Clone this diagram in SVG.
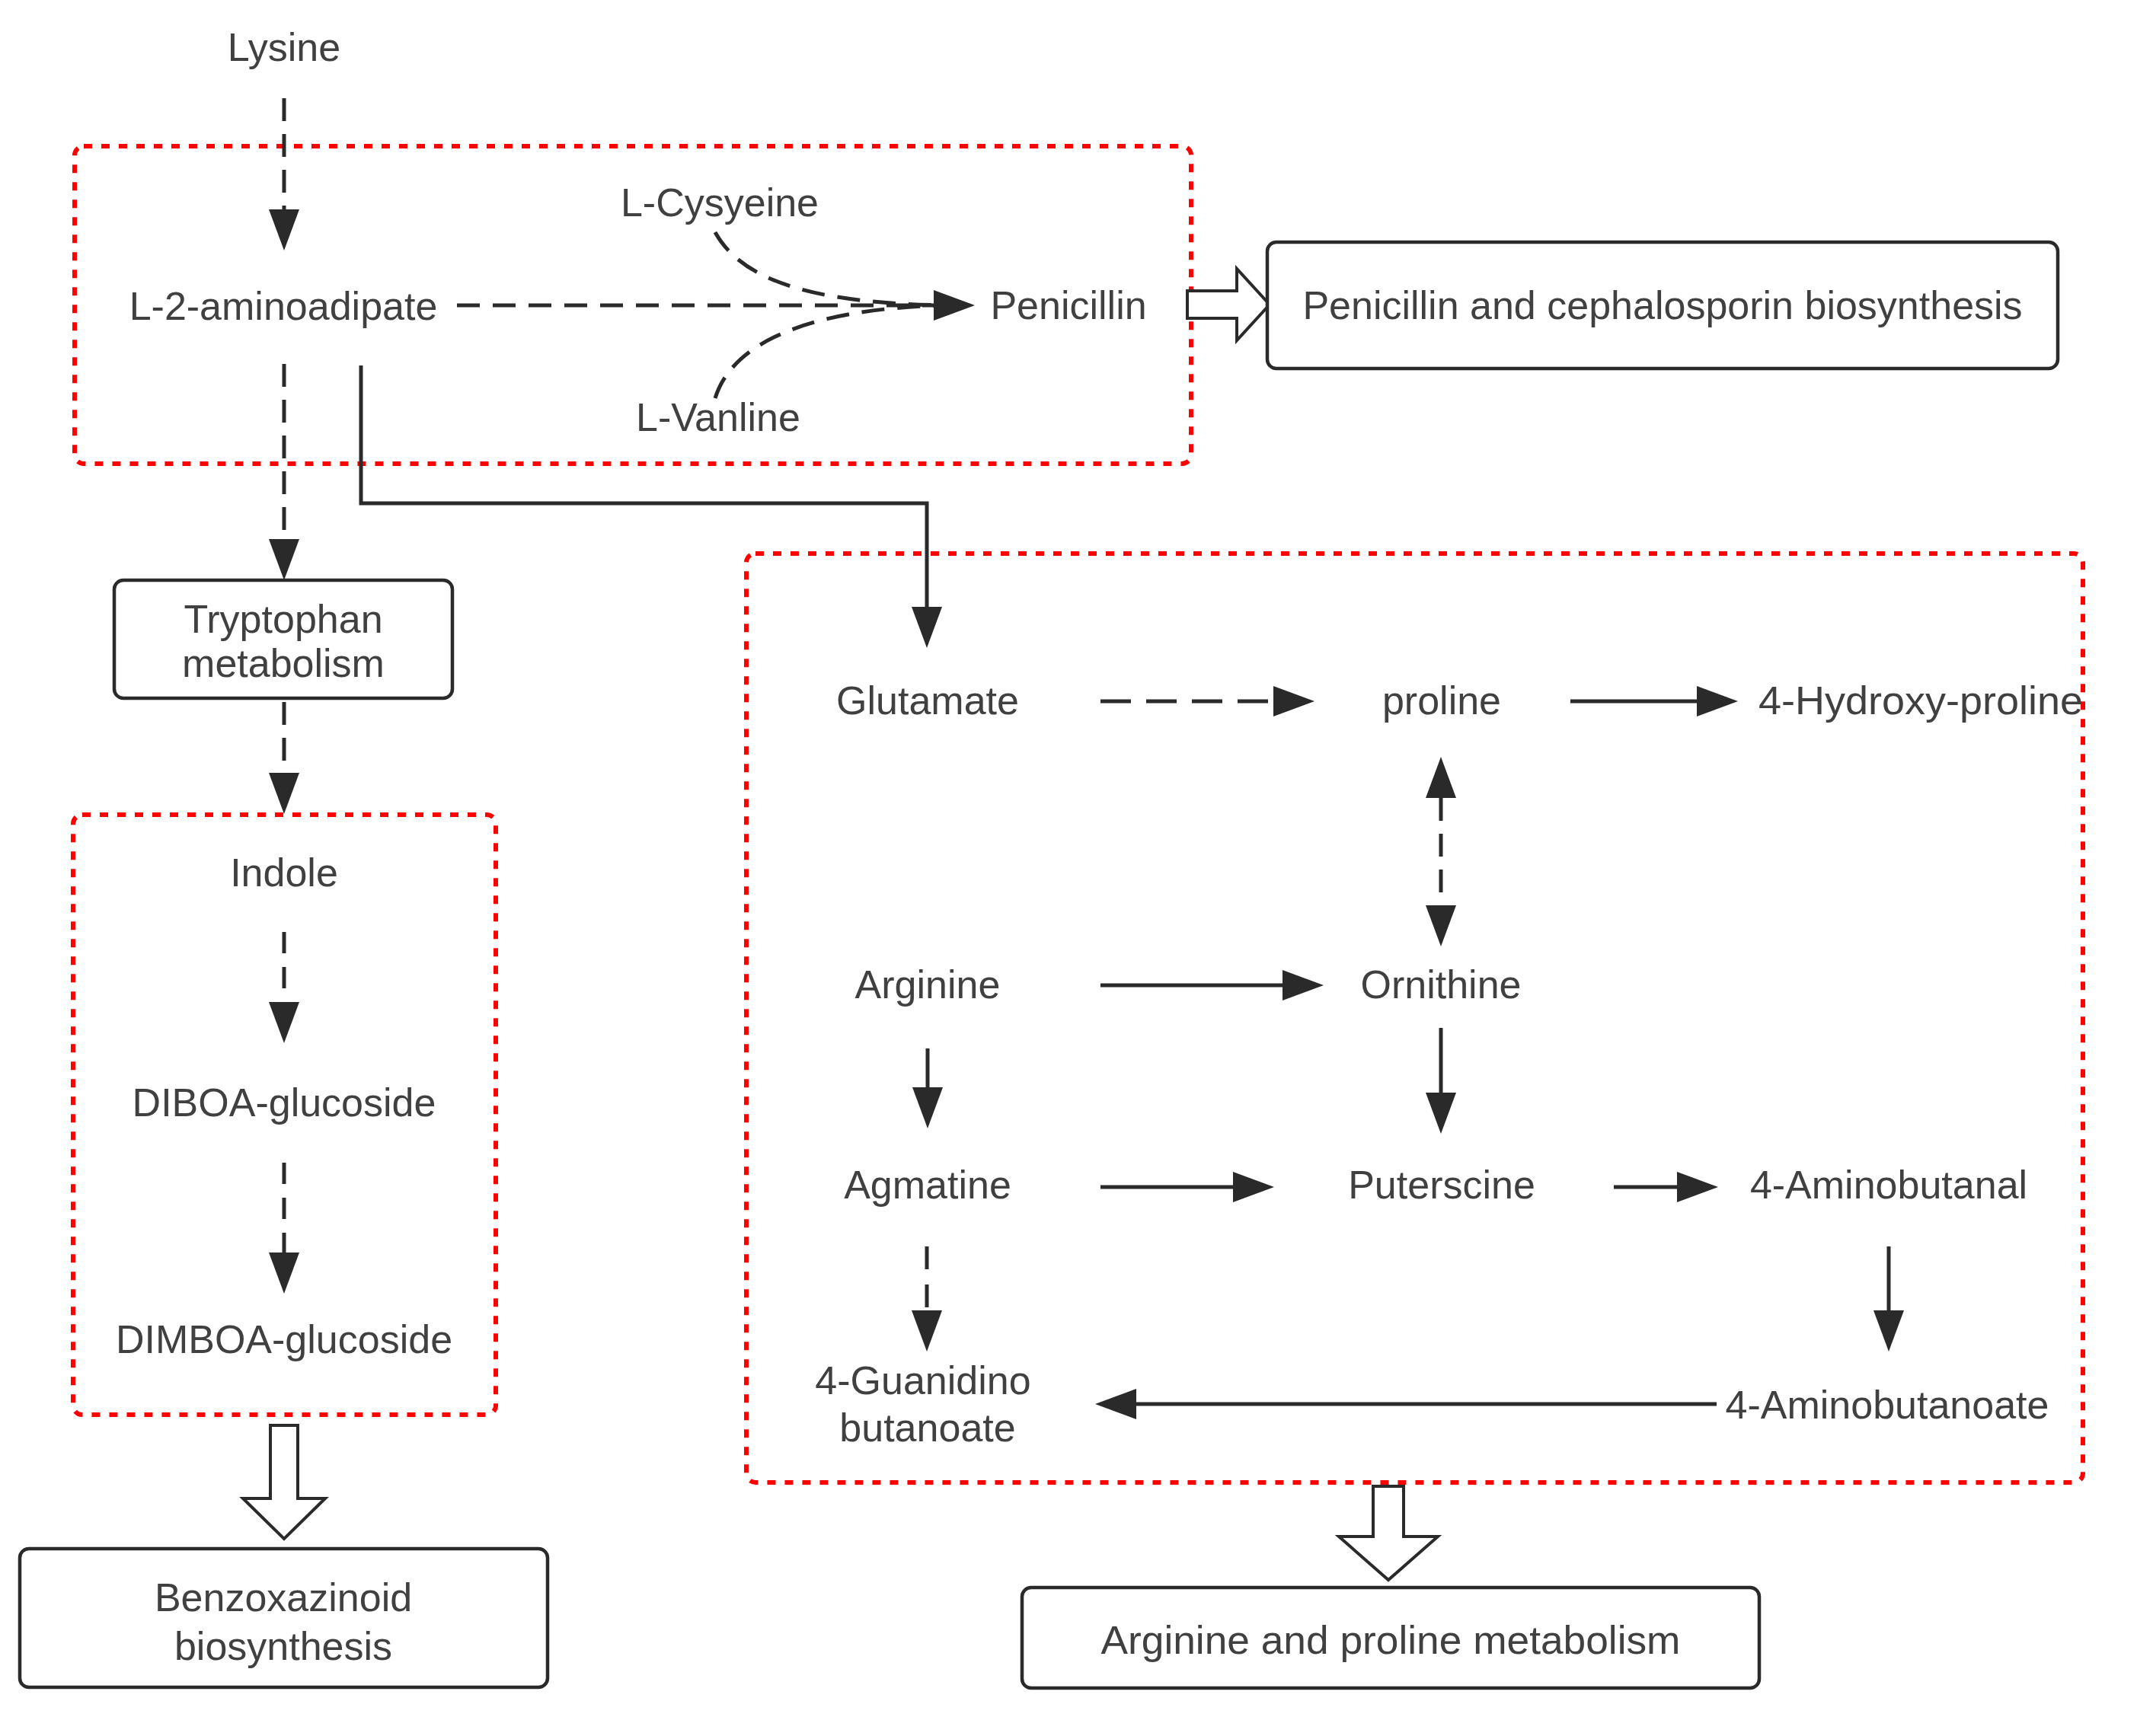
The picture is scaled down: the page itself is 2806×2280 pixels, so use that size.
<svg xmlns="http://www.w3.org/2000/svg" width="2806" height="2280" viewBox="0 0 2806 2280">
<defs>
<marker id="ah" viewBox="0 0 54 40" markerWidth="54" markerHeight="40" refX="0" refY="20" markerUnits="userSpaceOnUse" orient="auto-start-reverse">
<path d="M0,0 L54,20 L0,40 z" fill="#2a2a2a"/>
</marker>
<style>
text{font-family:"Liberation Sans",Arial,sans-serif;font-size:52px;fill:#404040;text-anchor:middle}
.red{fill:none;stroke:#ff0000;stroke-width:6;stroke-dasharray:11 12}
.box{fill:#fff;stroke:#2a2a2a;stroke-width:4.5}
.ln{fill:none;stroke:#2a2a2a;stroke-width:5}
.dash{stroke-dasharray:30 17}
.hollow{fill:#fff;stroke:#2a2a2a;stroke-width:4;stroke-linejoin:miter}
</style>
</defs>
<rect width="2806" height="2280" fill="#fff"/>

<g id="groups">
<rect id="group-penicillin" class="red" x="98" y="192" width="1466" height="417" rx="12"/>
<rect id="group-benzoxazinoid" class="red" x="96" y="1070" width="555" height="788" rx="12"/>
<rect id="group-arginine" class="red" x="980" y="727" width="1755" height="1220" rx="12"/>
</g>

<g id="connectors">
<line class="ln dash" x1="373" y1="129" x2="373" y2="275" marker-end="url(#ah)"/>
<line class="ln dash" x1="600" y1="401" x2="1226" y2="401" marker-end="url(#ah)"/>
<path class="ln dash" d="M939,305 C975,370 1070,398 1240,401"/>
<path class="ln dash" d="M939,523 C960,455 1050,406 1240,401"/>
<line class="ln dash" x1="373" y1="478" x2="373" y2="708" marker-end="url(#ah)"/>
<path class="ln" d="M474,480 V661 H1217 V797" marker-end="url(#ah)"/>
<line class="ln dash" x1="373" y1="922" x2="373" y2="1015" marker-end="url(#ah)"/>
<line class="ln dash" style="stroke-dasharray:28 18" x1="373" y1="1224" x2="373" y2="1316" marker-end="url(#ah)"/>
<line class="ln dash" style="stroke-dasharray:28 18" x1="373" y1="1527" x2="373" y2="1645" marker-end="url(#ah)"/>
<polygon id="to-penicillin-box" class="hollow" points="1559,382 1624,382 1624,353 1667,400 1624,447 1624,418 1559,418"/>
<polygon id="to-benzoxazinoid-box" class="hollow" points="355,1872 391,1872 391,1968 427,1968 373,2021 319,1968 355,1968"/>
<polygon id="to-arginine-box" class="hollow" points="1803,1952 1843,1952 1843,2018 1888,2018 1823,2075 1758,2018 1803,2018"/>

<line class="ln" style="stroke-dasharray:40 20" x1="1445" y1="921" x2="1672" y2="921" marker-end="url(#ah)"/>
<line class="ln" x1="2062" y1="921" x2="2228" y2="921" marker-end="url(#ah)"/>
<line class="ln dash" x1="1892" y1="1048" x2="1892" y2="1189" marker-start="url(#ah)" marker-end="url(#ah)"/>
<line class="ln" x1="1445" y1="1294" x2="1684" y2="1294" marker-end="url(#ah)"/>
<line class="ln" x1="1218" y1="1377" x2="1218" y2="1428" marker-end="url(#ah)"/>
<line class="ln" x1="1892" y1="1350" x2="1892" y2="1435" marker-end="url(#ah)"/>
<line class="ln" x1="1445" y1="1559" x2="1619" y2="1559" marker-end="url(#ah)"/>
<line class="ln" x1="2119" y1="1559" x2="2202" y2="1559" marker-end="url(#ah)"/>
<line class="ln" x1="2480" y1="1637" x2="2480" y2="1721" marker-end="url(#ah)"/>
<line class="ln dash" style="stroke-dasharray:30 20" x1="1217" y1="1637" x2="1217" y2="1721" marker-end="url(#ah)"/>
<line class="ln" x1="2254" y1="1844" x2="1492" y2="1844" marker-end="url(#ah)"/>
</g>

<g id="node-lysine"><text x="373" y="80">Lysine</text></g>
<g id="node-l2aminoadipate"><text x="372" y="420">L-2-aminoadipate</text></g>
<g id="node-lcysyeine"><text x="945" y="284">L-Cysyeine</text></g>
<g id="node-lvanline"><text x="943" y="566">L-Vanline</text></g>
<g id="node-penicillin"><text x="1403" y="419">Penicillin</text></g>
<g id="node-penicillin-box">
<rect class="box" x="1664" y="318" width="1038" height="166" rx="12"/>
<text x="2183" y="419">Penicillin and cephalosporin biosynthesis</text>
</g>
<g id="node-tryptophan">
<rect class="box" x="150" y="762" width="444" height="155" rx="12"/>
<text x="372" y="831">Tryptophan</text>
<text x="372" y="889">metabolism</text>
</g>
<g id="node-indole"><text x="373" y="1164">Indole</text></g>
<g id="node-diboa"><text x="373" y="1466">DIBOA-glucoside</text></g>
<g id="node-dimboa"><text x="373" y="1777">DIMBOA-glucoside</text></g>
<g id="node-benzoxazinoid">
<rect class="box" x="26" y="2034" width="693" height="182" rx="12"/>
<text x="372" y="2116">Benzoxazinoid</text>
<text x="372" y="2180">biosynthesis</text>
</g>
<g id="node-glutamate"><text x="1218" y="938">Glutamate</text></g>
<g id="node-proline"><text x="1893" y="938">proline</text></g>
<g id="node-hydroxyproline"><text x="2522" y="938" textLength="426" lengthAdjust="spacingAndGlyphs">4-Hydroxy-proline</text></g>
<g id="node-arginine"><text x="1218" y="1311">Arginine</text></g>
<g id="node-ornithine"><text x="1892" y="1311">Ornithine</text></g>
<g id="node-agmatine"><text x="1218" y="1574">Agmatine</text></g>
<g id="node-puterscine"><text x="1893" y="1574">Puterscine</text></g>
<g id="node-aminobutanal"><text x="2480" y="1574">4-Aminobutanal</text></g>
<g id="node-aminobutanoate"><text x="2478" y="1863">4-Aminobutanoate</text></g>
<g id="node-guanidino">
<text x="1212" y="1831">4-Guanidino</text>
<text x="1218" y="1893">butanoate</text>
</g>
<g id="node-arginine-box">
<rect class="box" x="1342" y="2085" width="968" height="132" rx="12"/>
<text x="1826" y="2172" textLength="761" lengthAdjust="spacingAndGlyphs">Arginine and proline metabolism</text>
</g>
</svg>
